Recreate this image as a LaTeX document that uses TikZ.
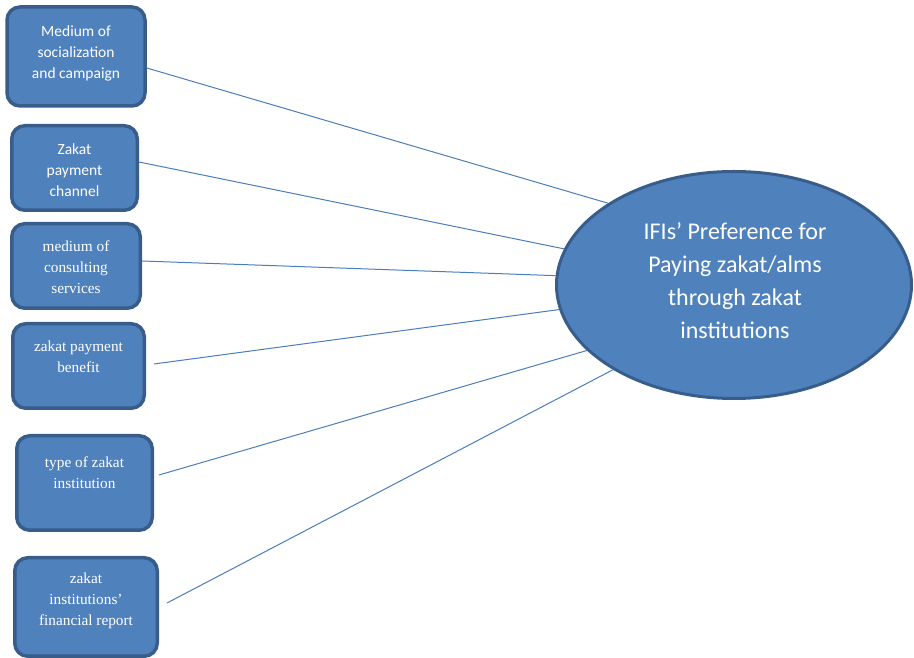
\documentclass[tikz,border=0pt]{standalone}
\usepackage{fontspec}
\setmainfont{Liberation Serif}
\newfontfamily\calfont{Carlito}
\usetikzlibrary{shapes.geometric,calc}
\definecolor{boxfill}{HTML}{4F81BD}
\definecolor{boxline}{HTML}{385D8A}
\definecolor{conn}{HTML}{4A7EBB}
\tikzset{
  box/.style={draw=boxline, fill=boxfill, line width=3.5pt, rounded corners=13pt, inner sep=0pt},
  txt/.style={text=white, align=center, font=\fontsize{15.3}{21}\selectfont, inner sep=0pt},
  caltxt/.style={txt, font=\calfont\fontsize{15.5}{21}\selectfont},
  ell/.style={draw=boxline, fill=boxfill, line width=3pt, ellipse, inner sep=0pt, minimum width=355pt, minimum height=227pt},
  conn/.style={draw=conn, line width=1pt}
}
\begin{document}
\begin{tikzpicture}[x=1pt,y=1pt]
\useasboundingbox (0,0) rectangle (914,658);
\node[box, minimum width=138pt, minimum height=99pt] (b1) at (76,601.5) {};
\node[caltxt] (t1) at (76,605) {Medium of\\socialization\\and campaign};
\node[box, minimum width=125.5pt, minimum height=84.5pt] (b2) at (74.5,490) {};
\node[caltxt] (t2) at (74.5,488) {Zakat\\payment\\channel};
\node[box, minimum width=128.5pt, minimum height=84.5pt] (b3) at (76,392) {};
\node[txt] (t3) at (76,391) {medium of\\consulting\\services};
\node[box, minimum width=131.5pt, minimum height=84.5pt] (b4) at (78.5,292) {};
\node[txt] (t4) at (78.5,301) {zakat payment\\benefit};
\node[box, minimum width=135.5pt, minimum height=94.5pt] (b5) at (84.5,175) {};
\node[txt] (t5) at (84.5,185) {type of zakat\\institution};
\node[box, minimum width=142.5pt, minimum height=98.5pt] (b6) at (86,51) {};
\node[txt] (t6) at (86,57) {zakat\\institutions’\\financial report};
\node[ell] (e) at (734,373) {};
\node[text=white, align=center, font=\calfont\fontsize{24}{33}\selectfont, inner sep=0pt] (et) at (735,377) {IFIs’ Preference for\\Paying zakat/alms\\through zakat\\institutions};
\coordinate (s1) at ([yshift=-11.5pt]b1.east);
\coordinate (s2) at ([yshift=6pt]b2.east);
\coordinate (s3) at ([yshift=5pt]b3.east);
\coordinate (s4) at ([xshift=8pt,yshift=2pt]b4.east);
\coordinate (s5) at ([xshift=5pt,yshift=8pt]b5.east);
\coordinate (s6) at ([xshift=8pt,yshift=4pt]b6.east);
\draw[conn] (s1) -- (e.147.1);
\draw[conn] (s2) -- (e.168.2);
\draw[conn] (s3) -- (e.177.1);
\draw[conn] (s4) -- (e.188.1);
\draw[conn] (s5) -- (e.204.5);
\draw[conn] (s6) -- (e.215.1);
\end{tikzpicture}
\end{document}
